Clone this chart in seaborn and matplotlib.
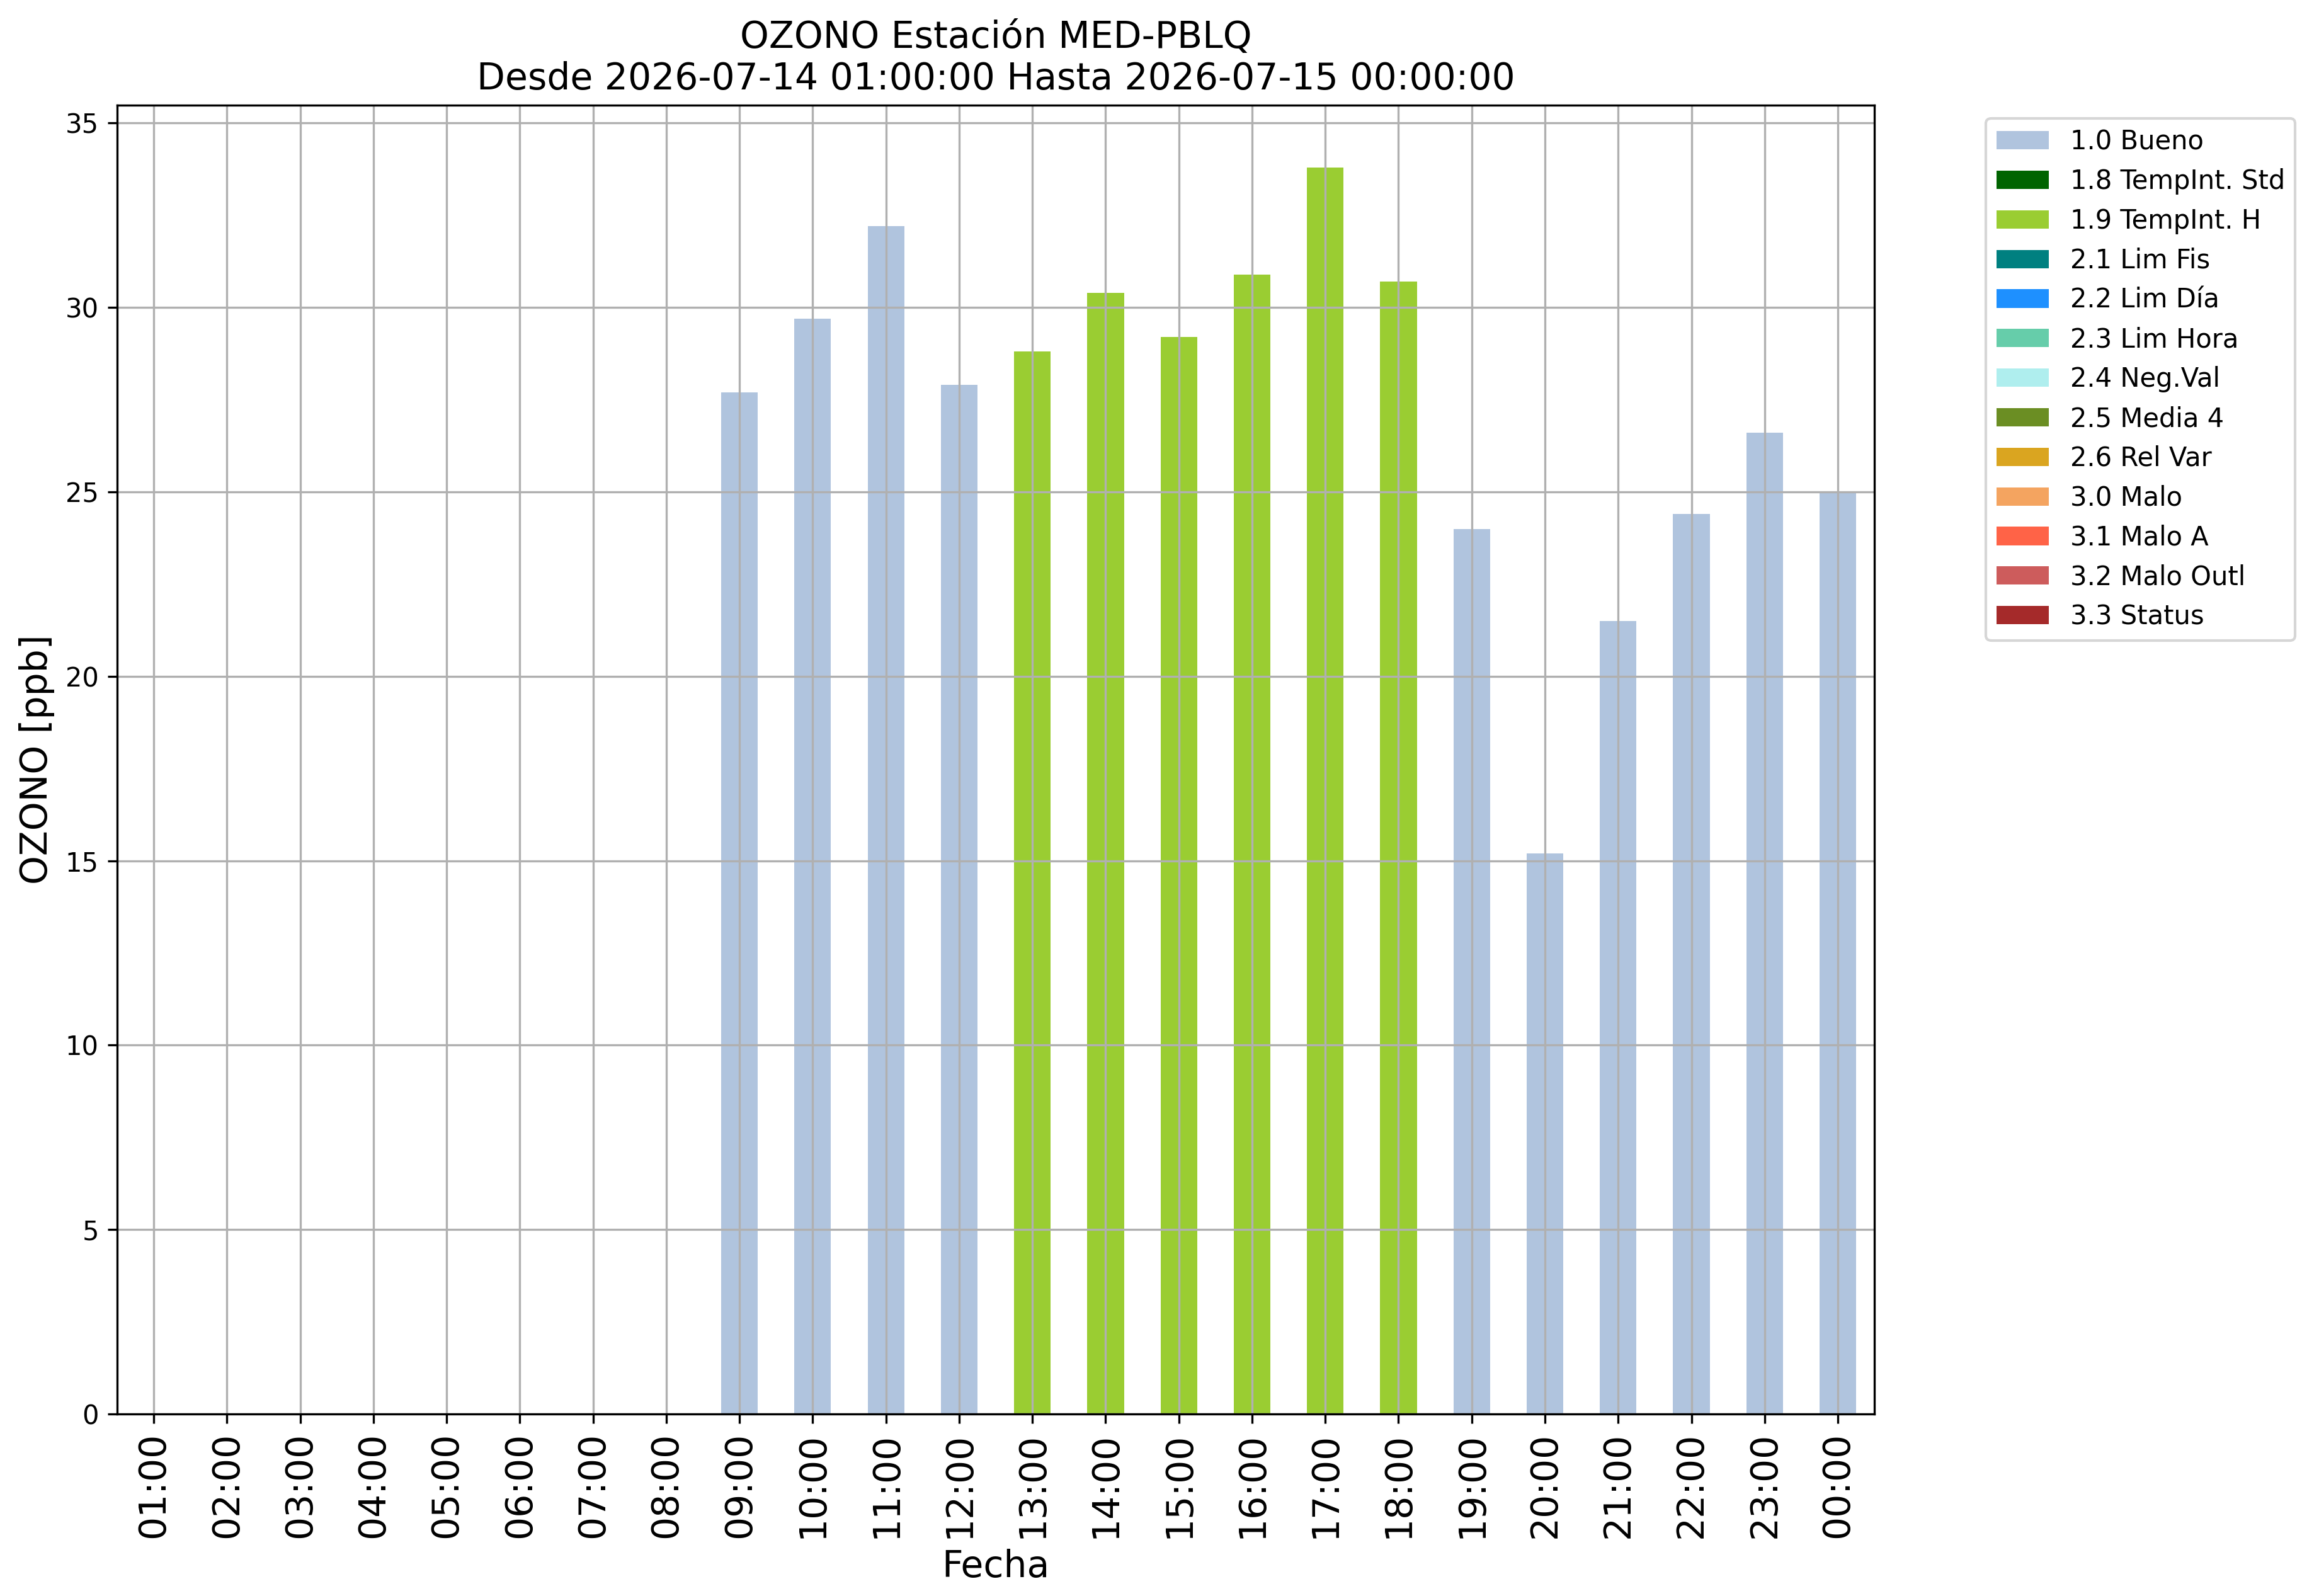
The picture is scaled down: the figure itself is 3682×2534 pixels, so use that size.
# ============================================================
# OZONO — barras horarias por bandera de calidad (MED-PBLQ)
# ============================================================

import pandas as pd
import numpy as np
import seaborn as sns
import matplotlib.pyplot as plt
from matplotlib.patches import Patch

# ---------- Datos ----------
horas = ["01:00", "02:00", "03:00", "04:00", "05:00", "06:00", "07:00", "08:00",
         "09:00", "10:00", "11:00", "12:00", "13:00", "14:00", "15:00", "16:00",
         "17:00", "18:00", "19:00", "20:00", "21:00", "22:00", "23:00", "00:00"]

# Solo hay datos desde las 09:00
horas_datos = ["09:00", "10:00", "11:00", "12:00", "13:00", "14:00", "15:00", "16:00",
               "17:00", "18:00", "19:00", "20:00", "21:00", "22:00", "23:00", "00:00"]
ozono = [27.7, 29.7, 32.2, 27.9, 28.8, 30.4, 29.2, 30.9,
         33.8, 30.7, 24.0, 15.2, 21.5, 24.4, 26.6, 25.0]
bandera = ["1.0 Bueno", "1.0 Bueno", "1.0 Bueno", "1.0 Bueno",
           "1.9 TempInt. H", "1.9 TempInt. H", "1.9 TempInt. H", "1.9 TempInt. H",
           "1.9 TempInt. H", "1.9 TempInt. H",
           "1.0 Bueno", "1.0 Bueno", "1.0 Bueno", "1.0 Bueno", "1.0 Bueno", "1.0 Bueno"]

etiquetas = ["1.0 Bueno", "1.8 TempInt. Std", "1.9 TempInt. H", "2.1 Lim Fis",
             "2.2 Lim Día", "2.3 Lim Hora", "2.4 Neg.Val", "2.5 Media 4",
             "2.6 Rel Var", "3.0 Malo", "3.1 Malo A", "3.2 Malo Outl", "3.3 Status"]
colores = ["lightsteelblue", "darkgreen", "yellowgreen", "teal",
           "dodgerblue", "mediumaquamarine", "paleturquoise", "olivedrab",
           "goldenrod", "sandybrown", "tomato", "indianred", "brown"]

titulo = "OZONO Estación MED-PBLQ\nDesde 2026-07-14 01:00:00 Hasta 2026-07-15 00:00:00"

df = pd.DataFrame({"hora": horas_datos, "ozono": ozono, "bandera": bandera})
paleta = dict(zip(etiquetas, colores))

# ---------- Gráfico ----------
fig, ax = plt.subplots(figsize=(3682 / 300, 2534 / 300), dpi=300)
fig.subplots_adjust(left=0.0505, right=0.8083, top=0.9342, bottom=0.1141)

sns.barplot(data=df, x="hora", y="ozono", hue="bandera", order=horas,
            hue_order=etiquetas, palette=paleta, dodge=False, width=0.5,
            saturation=1, errorbar=None, legend=False, ax=ax)

ax.grid(True)
ax.set_xlim(-0.5, len(horas) - 0.5)
ax.set_ylim(0, max(ozono) * 1.05)
ax.set_title(titulo, fontsize=14)
ax.set_xlabel("Fecha", fontsize=14)
ax.set_ylabel("OZONO [ppb]", fontsize=14)
ax.tick_params(axis="x", labelrotation=90, labelsize=14)
ax.tick_params(axis="y", labelsize=10)

# leyenda con todas las banderas, aunque no aparezcan
handles = [Patch(facecolor=c, label=l) for l, c in zip(etiquetas, colores)]
ax.legend(handles=handles, bbox_to_anchor=(1.056, 1), loc="upper left", fontsize=10)

plt.savefig("out.png", dpi=300)
print("✅ out.png guardado")
